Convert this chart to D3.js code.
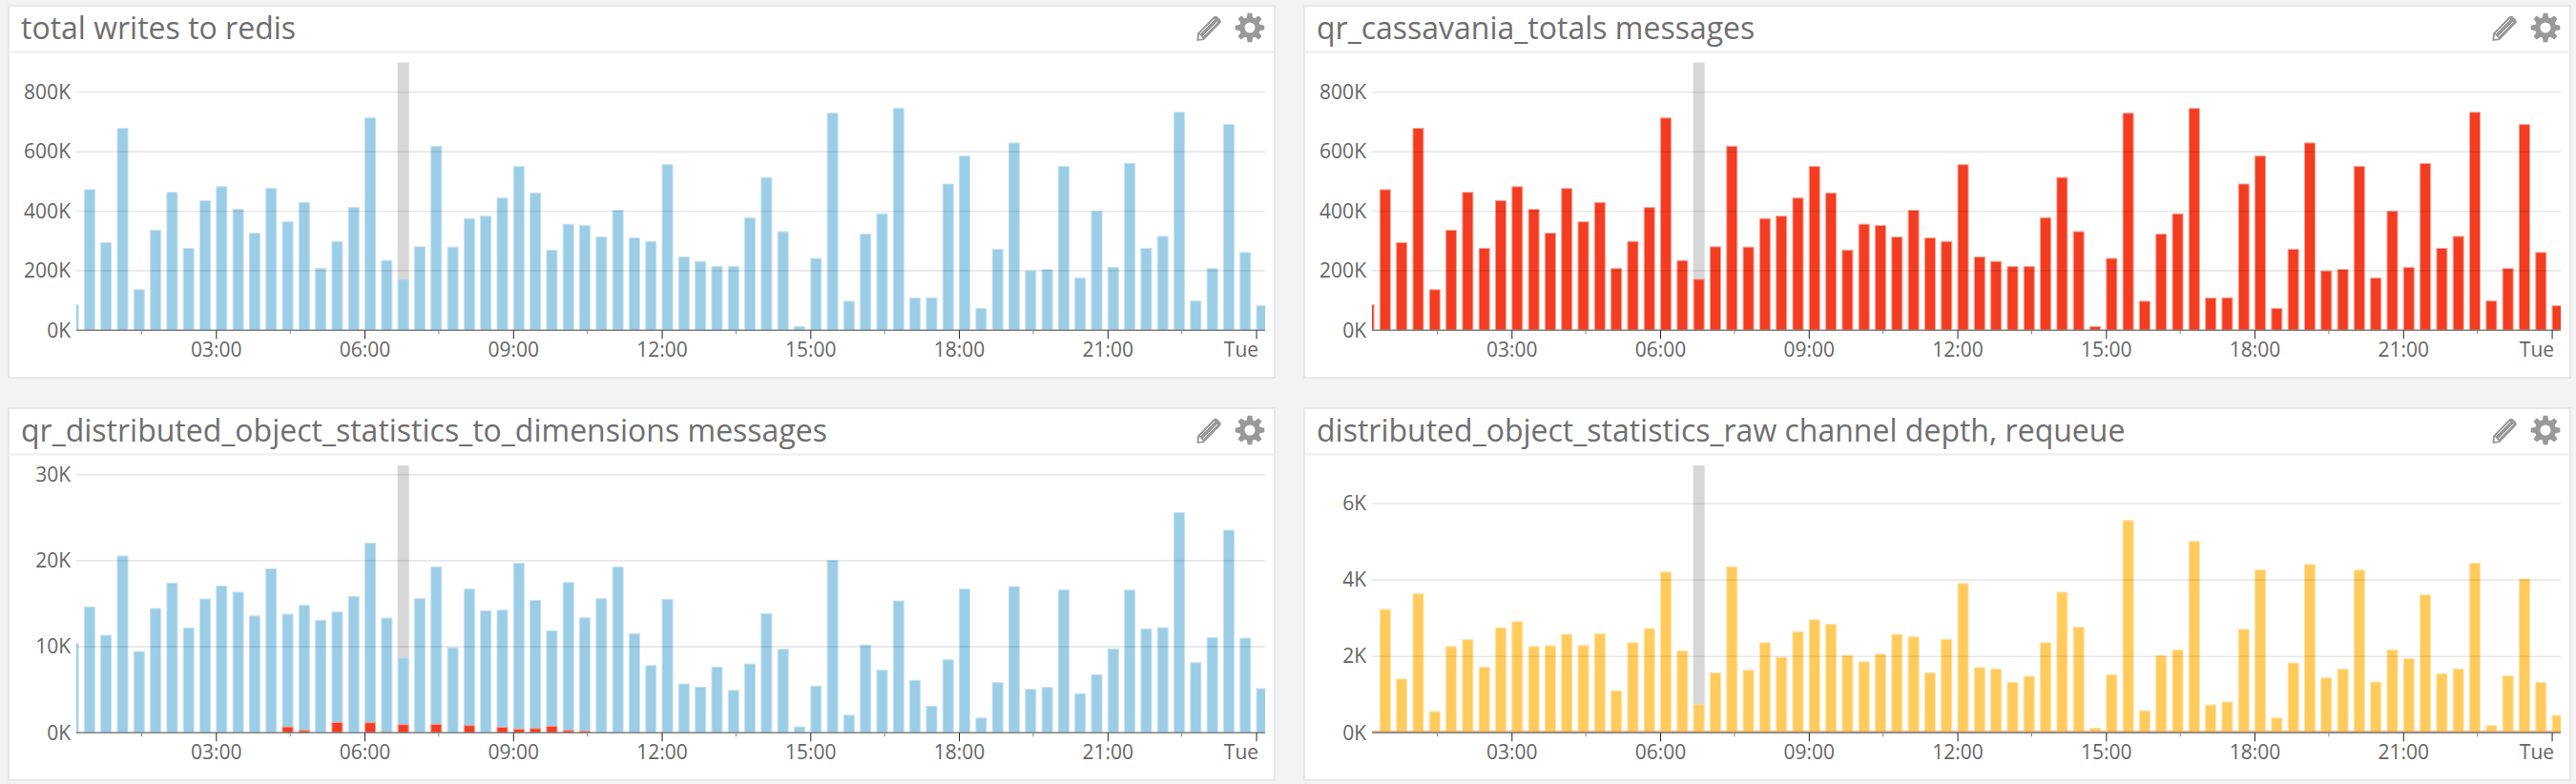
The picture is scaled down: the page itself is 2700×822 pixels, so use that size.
<!DOCTYPE html>
<html><head><meta charset="utf-8">
<script src="https://cdn.jsdelivr.net/npm/d3@7"></script>
<style>
html,body{margin:0;padding:0;background:#f3f3f3;}
svg{display:block;}
text{font-family:"Open Sans",sans-serif;fill:#6b6b6b;}
</style></head><body>
<svg id="c" width="2700" height="822"></svg>
<script>
// ---- data (one bar every 20 minutes, starting at 00:00) ----
const totalWrites = [88,474,296,680,138,338,465,277,437,484,408,328,478,366,431,209,300,414,715,236,173,282,620,281,377,385,446,552,463,271,358,354,315,405,312,300,558,248,233,216,216,380,515,333,14,243,731,99,325,393,747,110,111,493,587,75,274,631,201,206,552,177,402,213,562,277,317,734,100,209,693,263,84].map(v=>v*1000);
const dimensionMessages = [10.46,14.68,11.39,20.6,9.5,14.5,17.45,12.24,15.6,17.1,16.4,13.64,19.1,13.83,14.86,13.12,14.08,15.9,22.1,13.38,8.76,15.64,19.33,9.94,16.75,14.23,14.3,19.74,15.45,11.9,17.52,13.42,15.64,19.33,11.57,7.87,15.56,5.73,5.36,7.69,4.99,8.06,13.9,9.76,0.74,5.47,20.1,2.1,10.24,7.32,15.38,6.14,3.14,8.54,16.75,1.77,5.88,17.04,5.1,5.32,16.67,4.58,6.8,9.8,16.64,12.13,12.27,25.62,8.2,11.13,23.59,11.05,5.18].map(v=>v*1000);
const dimensionRequeue = [0,0,0,0,0,0,0,0,0,0,0,0,0,0.74,0.33,0,1.26,0,1.22,0.15,1.0,0,1.03,0,0.89,0,0.7,0.48,0.55,0.81,0.33,0.26].map(v=>v*1000);
const channelDepth = [0,3.24,1.42,3.65,0.57,2.27,2.45,1.73,2.76,2.92,2.27,2.29,2.59,2.3,2.6,1.11,2.37,2.74,4.22,2.15,0.75,1.58,4.36,1.65,2.37,1.99,2.66,2.97,2.85,2.04,1.87,2.07,2.59,2.52,1.58,2.46,3.92,1.72,1.68,1.33,1.49,2.37,3.69,2.78,0.13,1.53,5.57,0.59,2.03,2.18,5.02,0.74,0.82,2.72,4.28,0.4,1.84,4.42,1.45,1.68,4.27,1.34,2.18,1.95,3.62,1.56,1.68,4.45,0.2,1.5,4.04,1.33,0.47].map(v=>v*1000);
const channelBase = 50;
const hoverIndex = 20;
const titles = ["total writes to redis","qr_cassavania_totals messages","qr_distributed_object_statistics_to_dimensions messages","distributed_object_statistics_raw channel depth, requeue"];
const yTicksTop = [0,200000,400000,600000,800000];
const yTicks3 = [0,10000,20000,30000];
const yTicks4 = [0,2000,4000,6000];
const majorHours = [3,6,9,12,15,18,21,24];
const majorLabels = ["03:00","06:00","09:00","12:00","15:00","18:00","21:00","Tue"];
const minorHours = [1.5,4.5,7.5,10.5,13.5,16.5,19.5,22.5];

const BLUE="#9bcde6",BLUEE="#c4e2f1",RED="#f33c21",REDE="#f8a295",YEL="#ffcb5c",YELE="#ffe3a8";
const day0 = Date.UTC(2016,0,4);
const at = m => new Date(day0 + m*60000);
const svg = d3.select("#c");

function panel(idx,cfg){
  const ox = idx%2 ? 1358 : 0;
  const top = idx<2 ? 6 : 428;
  const bottom = idx<2 ? 396 : 818;
  const headLine = idx<2 ? 54.5 : 476.5;
  const titleY = idx<2 ? 41 : 463;
  const g = svg.append("g").attr("transform",`translate(${ox},0)`);
  g.append("rect").attr("x",9).attr("y",top).attr("width",1327).attr("height",bottom-top).attr("fill","#fff").attr("stroke","#e8e8e8").attr("stroke-width",2);
  g.append("line").attr("x1",9).attr("x2",1336).attr("y1",headLine).attr("y2",headLine).attr("stroke","#eeeeee").attr("stroke-width",2);
  g.append("text").attr("x",22).attr("y",titleY).attr("font-size",32).style("fill","#6f6f6f").text(titles[idx]);

  const x = d3.scaleUtc().domain([at(10.9),at(10.9+1440)]).range([80,1326]);
  const y = d3.scaleLinear().domain([0,cfg.max]).range([cfg.y0,cfg.yTop]);
  const bw = 12;
  const cid = "clip"+idx;
  g.append("clipPath").attr("id",cid).append("rect").attr("x",80).attr("y",cfg.yTop-2).attr("width",1246).attr("height",cfg.y0-cfg.yTop+2);
  const plot = g.append("g").attr("clip-path",`url(#${cid})`);
  const xs = i => x(at(i*20));

  // hover band
  plot.append("rect").attr("x",xs(hoverIndex)).attr("width",bw).attr("y",y(cfg.max))
    .attr("height",y(0)-y(cfg.max)).attr("fill","#d7d7d7");

  cfg.series.forEach(s=>{
    plot.append("g").selectAll("rect").data(s.values).join("rect")
      .attr("x",(d,i)=>xs(i)+0.5).attr("width",bw-1)
      .attr("y",d=>y(d)+0.5).attr("height",d=>Math.max(0,y(0)-y(d)-0.5))
      .attr("fill",s.color).attr("stroke",s.edge).attr("stroke-width",1)
      .attr("display",d=>d>0?null:"none");
  });
  if(cfg.base){
    plot.append("rect").attr("x",80).attr("width",1246).attr("y",y(cfg.base)).attr("height",y(0)-y(cfg.base)).attr("fill","#fba86e");
  }
  // grid on top of the bars
  g.append("g").selectAll("line").data(cfg.ticks.filter(d=>d>0)).join("line")
    .attr("x1",80).attr("x2",1326).attr("y1",d=>y(d)).attr("y2",d=>y(d))
    .attr("stroke","#000").attr("stroke-opacity",0.09).attr("stroke-width",1.6);

  // y axis
  const ya = g.append("g").attr("transform","translate(80,0)")
    .call(d3.axisLeft(y).tickValues(cfg.ticks).tickSize(0).tickPadding(6).tickFormat(d=>(d/1000)+"K"));
  ya.select(".domain").remove();
  ya.selectAll("text").attr("font-size",21).attr("font-family",'"Open Sans",sans-serif').style("fill","#666");

  // x axis
  const xa = g.append("g").attr("transform",`translate(0,${cfg.y0})`);
  xa.call(d3.axisBottom(x).tickValues(majorHours.map(h=>at(h*60))).tickSize(9).tickPadding(4).tickFormat((d,i)=>majorLabels[i]));
  xa.select(".domain").attr("d","M80,0H1326").attr("stroke","#808080").attr("stroke-width",1.4);
  xa.selectAll(".tick line").attr("stroke","#222");
  xa.selectAll("text").attr("font-size",21).attr("font-family",'"Open Sans",sans-serif').style("fill","#666")
    .filter((d,i)=>majorLabels[i]==="Tue").attr("text-anchor","end").attr("dx",2);
  g.append("g").attr("transform",`translate(0,${cfg.y0})`).selectAll("line").data(minorHours).join("line")
    .attr("x1",d=>x(at(d*60))).attr("x2",d=>x(at(d*60))).attr("y1",0).attr("y2",4).attr("stroke","#888");

  // header icons
  const ic = g.append("g").attr("transform",`translate(0,${top-6})`).attr("fill","#999");
  ic.append("path").attr("transform","translate(1267,30)").attr("d","M-12.5,13 L-12,5 L5,-12.5 Q7,-14 9,-12.5 L12,-9.5 Q13.5,-7.5 12,-5.5 L-5,12 Z M-10,6 L-10.5,11 L-6,10.5 Z");
  ic.append("path").attr("transform","translate(1267,30)").attr("d","M-9,5 L6,-10 M-6,8 L9,-7").attr("stroke","#fff").attr("stroke-width",1).attr("fill","none");
  // gear
  const teeth=8, R=15.5, r=11, pts=[];
  d3.range(teeth).forEach(k=>{
    const a=k/teeth*2*Math.PI, w=0.24, w2=0.15;
    pts.push([a-w-0.05,r],[a-w2,R],[a+w2,R],[a+w+0.05,r]);
  });
  const gp = d3.lineRadial().angle(d=>d[0]).radius(d=>d[1]).curve(d3.curveLinearClosed)(pts);
  const hole = d3.arc()({innerRadius:0,outerRadius:5.5,startAngle:0,endAngle:2*Math.PI});
  ic.append("path").attr("transform","translate(1310,29)").attr("d",gp);
  ic.append("path").attr("transform","translate(1310,29)").attr("d",hole).attr("fill","#fff");
}

panel(0,{max:900000,y0:346.3,yTop:65.5,ticks:yTicksTop,series:[{values:totalWrites,color:BLUE,edge:BLUEE}]});
panel(1,{max:900000,y0:346.3,yTop:65.5,ticks:yTicksTop,series:[{values:totalWrites,color:RED,edge:REDE}]});
panel(2,{max:31070,y0:768.3,yTop:488,ticks:yTicks3,series:[{values:dimensionMessages,color:BLUE,edge:BLUEE},{values:dimensionRequeue,color:RED,edge:REDE}]});
panel(3,{max:7000,y0:768.3,yTop:488,ticks:yTicks4,base:channelBase,series:[{values:channelDepth,color:YEL,edge:YELE}]});
</script>
</body></html>
